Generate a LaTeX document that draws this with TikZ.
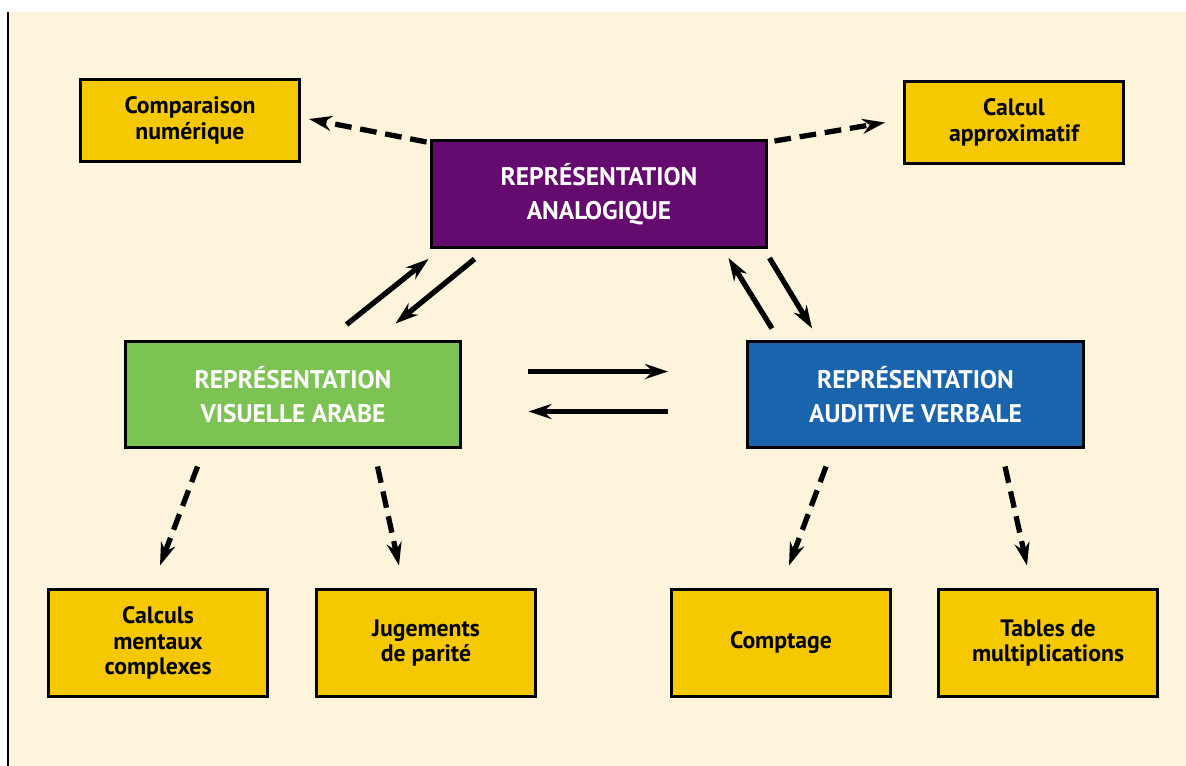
\documentclass[tikz,border=0pt]{standalone}
\usepackage{fontspec}
\setmainfont{PT Sans}
\usepackage{xcolor}
\usetikzlibrary{arrows.meta,positioning}
\definecolor{creme}{HTML}{FEF4DC}
\definecolor{jaune}{HTML}{F5C800}
\definecolor{violet}{HTML}{650A6E}
\definecolor{vert}{HTML}{7DC353}
\definecolor{bleu}{HTML}{1A64AE}
\tikzset{%
	headbox/.style = {draw, rectangle, line width=1.7pt, minimum width=6.72cm, minimum height=2.14cm, text=white, align=center, font=\bfseries\fontsize{14.5}{19.5}\selectfont},
	leafbox/.style = {draw, rectangle, line width=1.7pt, fill=jaune, minimum width=4.38cm, minimum height=2.16cm, align=center, font=\bfseries\fontsize{13.5}{14.5}\selectfont},
	arrow/.style   = {line width=3pt, -{Stealth[length=13pt,width=8.5pt]}},
	dasharrow/.style = {arrow, dash pattern=on 9.5pt off 5pt},
}
\begin{document}
\begin{tikzpicture}[x=0.02cm,y=-0.02cm]
		\useasboundingbox (0,0) rectangle (1186,766);
		\fill[white] (0,0) rectangle (1186,766);
		\fill[creme] (8,12) rectangle (1186,766);
		\draw[line width=1.2pt] (8,12) -- (8,766);  % left rule
		% central representations
		\node[headbox, fill=violet] (ana) at (599,194) {REPRÉSENTATION\\ANALOGIQUE};
		\node[headbox, fill=vert] (vis) at (293,394.5) {REPRÉSENTATION\\VISUELLE ARABE};
		\node[headbox, fill=bleu] (aud) at (915.5,394.5) {REPRÉSENTATION\\AUDITIVE VERBALE};
		% tasks
		\node[leafbox, minimum height=1.64cm] (comp) at (190,120.5) {Comparaison\\numérique};
		\node[leafbox, minimum height=1.64cm] (approx) at (1014,122.5) {Calcul\\approximatif};
		\node[leafbox] (mental) at (158,643) {Calculs\\mentaux\\complexes};
		\node[leafbox] (parite) at (426,643) {Jugements\\de parité};
		\node[leafbox] (compt) at (781,643) {Comptage};
		\node[leafbox] (tables) at (1048,643) {Tables de\\multiplications};
		% solid arrows
		\draw[arrow] ([shift={(223,-15)}]vis.north west) -- ([shift={(-1,10)}]ana.south west);
		\draw[arrow] ([shift={(45,10)}]ana.south west) -- ([shift={(272,-16)}]vis.north west);
		\draw[arrow] ([shift={(26,-11)}]aud.north west) -- ([shift={(-40,9)}]ana.south east);
		\draw[arrow] ([shift={(1,9)}]ana.south east) -- ([shift={(66,-11)}]aud.north west);
		\draw[arrow] ([shift={(66,32)}]vis.north east) -- ([shift={(-78,32)}]aud.north west);
		\draw[arrow] ([shift={(-78,72)}]aud.north west) -- ([shift={(66,72)}]vis.north east);
		% dashed arrows
		\draw[dasharrow] ([shift={(-3,3)}]ana.north west) -- ([shift={(8,-1.5)}]comp.east);
		\draw[dasharrow] ([shift={(6,2)}]ana.north east) -- ([shift={(-18,0)}]approx.west);
		\draw[dasharrow] ([shift={(74,17)}]vis.south west) -- ([shift={(2,-22)}]mental.north);
		\draw[dasharrow] ([shift={(254,17)}]vis.south west) -- ([shift={(-27,-22)}]parite.north);
		\draw[dasharrow] ([shift={(80,17)}]aud.south west) -- ([shift={(8,-22)}]compt.north);
		\draw[dasharrow] ([shift={(259,17)}]aud.south west) -- ([shift={(-21,-22)}]tables.north);
\end{tikzpicture}
\end{document}
